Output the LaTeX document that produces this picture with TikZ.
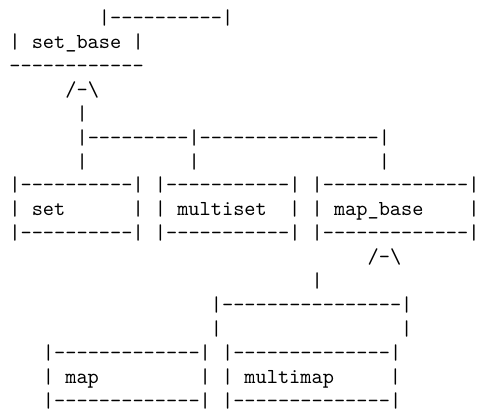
\documentclass[tikz,border=0pt]{standalone}
\usetikzlibrary{positioning}

\begin{document}
\begin{tikzpicture}[x=5.25pt, y=-11.23pt,
	ascii/.style={anchor=base west, inner sep=0pt, outer sep=0pt, yshift=-3pt,
		font=\ttfamily\fontsize{10}{11}\selectfont}]
\useasboundingbox (-1.34,0.25) rectangle (41.45,17.36);
						% base of the sets
						\node[ascii] (setbasetop) at (7.5,1) {|----------|};
						\node[ascii] (setbase)    at (-0.5,2) {|~set\_base~|};
						\node[ascii] (setbasebot) at (-0.5,3) {------------};
						
						\node[ascii] (headset)  at (4.5,4) {/-\textbackslash};
						\node[ascii] (stemset)  at (5.5,5) {|};
						\node[ascii] (busset)   at (5.5,6) {|---------|----------------|};
						\node[ascii] (dropset)      at (5.5,7)  {|};
						\node[ascii] (dropmultiset) at (15.5,7) {|};
						\node[ascii] (dropmapbase)  at (32.5,7) {|};
						
						% set, multiset, map_base
						\node[ascii] (settop) at (-0.5,8)  {|----------|};
						\node[ascii] (set)    at (-0.5,9)  {|~set~~~~~~|};
						\node[ascii] (setbot) at (-0.5,10) {|----------|};
						
						\node[ascii] (multisettop) at (12.5,8)  {|-----------|};
						\node[ascii] (multiset)    at (12.5,9)  {|~multiset~~|};
						\node[ascii] (multisetbot) at (12.5,10) {|-----------|};
						
						\node[ascii] (mapbasetop) at (26.5,8)  {|-------------|};
						\node[ascii] (mapbase)    at (26.5,9)  {|~map\_base~~~~|};
						\node[ascii] (mapbasebot) at (26.5,10) {|-------------|};
						
						\node[ascii] (headmap) at (31.5,11) {/-\textbackslash};
						\node[ascii] (stemmap) at (26.5,12) {|};
						\node[ascii] (busmap)  at (17.5,13) {|----------------|};
						\node[ascii] (dropmap)      at (17.5,14) {|};
						\node[ascii] (dropmultimap) at (34.5,14) {|};
						
						% map, multimap
						\node[ascii] (maptop) at (2.5,15) {|-------------|};
						\node[ascii] (map)    at (2.5,16) {|~map~~~~~~~~~|};
						\node[ascii] (mapbot) at (2.5,17) {|-------------|};
						
						\node[ascii] (multimaptop) at (18.5,15) {|--------------|};
						\node[ascii] (multimap)    at (18.5,16) {|~multimap~~~~~|};
						\node[ascii] (multimapbot) at (18.5,17) {|--------------|};
\end{tikzpicture}
\end{document}
